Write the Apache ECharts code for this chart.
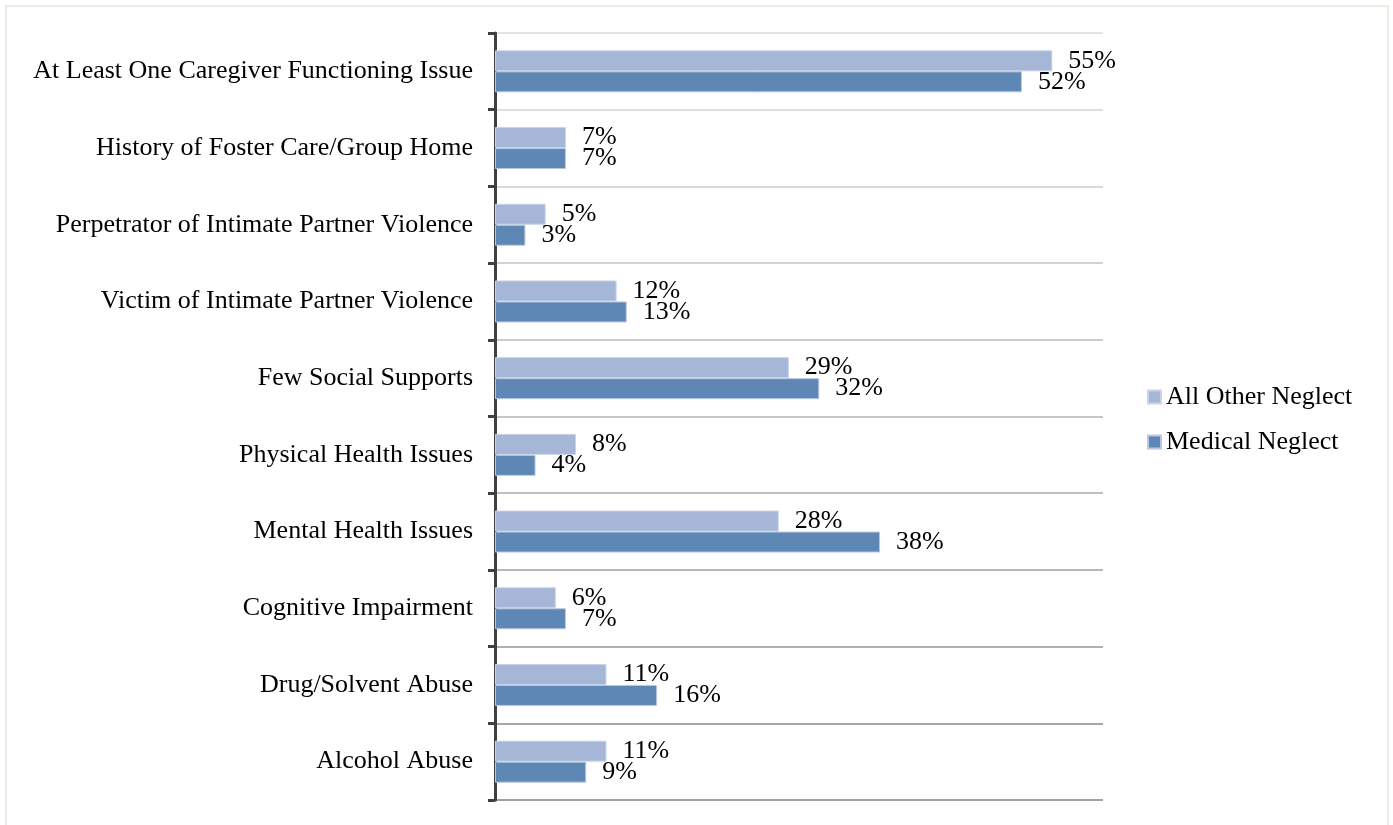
<!DOCTYPE html>
<html>
<head>
<meta charset="utf-8">
<script src="https://cdn.jsdelivr.net/npm/echarts@6/dist/echarts.min.js"></script>
<style>
  html, body { margin: 0; padding: 0; background: #fff; }
  #frame { position: absolute; left: 5px; top: 5px; width: 1384px; height: 830px; border: 2px solid #eeede4; box-sizing: border-box; }
  #echart { width: 1393px; height: 825px; position: absolute; left: 0; top: 0; }
</style>
</head>
<body>
<div id="frame"></div>
<div id="echart"></div>
<script>
var categories = [
  'At Least One Caregiver Functioning Issue',
  'History of Foster Care/Group Home',
  'Perpetrator of Intimate Partner Violence',
  'Victim of Intimate Partner Violence',
  'Few Social Supports',
  'Physical Health Issues',
  'Mental Health Issues',
  'Cognitive Impairment',
  'Drug/Solvent Abuse',
  'Alcohol Abuse'
];
var allOtherNeglect = [55, 7, 5, 12, 29, 8, 28, 6, 11, 11];
var medicalNeglect = [52, 7, 3, 13, 32, 4, 38, 7, 16, 9];
// gridlines get darker towards the bottom
var gridColors = ['#e4e4e4', '#dedede', '#d8d8d8', '#d2d2d2', '#cccccc', '#c6c6c6',
                  '#bfbfbf', '#b8b8b8', '#b0b0b0', '#a8a8a8', '#a0a0a0'];

var chart = echarts.init(document.getElementById('echart'));
var font = '"Liberation Serif", "Times New Roman", serif';

var labelOpt = {
  show: true,
  position: 'right',
  distance: 16,
  formatter: '{c}%',
  color: '#000',
  fontFamily: font,
  fontSize: 26
};

chart.setOption({
  animation: false,
  grid: { left: 495, right: 290, top: 33, bottom: 25 },
  legend: {
    orient: 'vertical',
    left: 1142,
    top: 379,
    itemWidth: 13,
    itemHeight: 13,
    itemGap: 19,
    icon: 'rect',
    textStyle: { fontFamily: font, fontSize: 26, color: '#000' },
    data: ['All Other Neglect', 'Medical Neglect']
  },
  xAxis: {
    type: 'value',
    min: 0,
    max: 60,
    show: false,
    splitLine: { show: false }
  },
  yAxis: {
    type: 'category',
    inverse: true,
    data: categories,
    axisLine: { show: true, lineStyle: { color: '#404040', width: 3 } },
    axisTick: { show: true, length: 7, lineStyle: { color: '#404040', width: 3 } },
    axisLabel: { margin: 22, color: '#000', fontFamily: font, fontSize: 26 },
    splitLine: { show: true, lineStyle: { color: gridColors, width: 2 } }
  },
  series: [
    {
      name: 'All Other Neglect',
      type: 'bar',
      data: allOtherNeglect,
      barWidth: 21,
      barGap: '0%',
      itemStyle: { color: '#a5b6d6', borderColor: '#c9d4e8', borderWidth: 1 },
      label: labelOpt
    },
    {
      name: 'Medical Neglect',
      type: 'bar',
      data: medicalNeglect,
      barWidth: 21,
      itemStyle: { color: '#5f87b6', borderColor: '#b9c8e0', borderWidth: 1 },
      label: labelOpt
    }
  ]
});
</script>
</body>
</html>
